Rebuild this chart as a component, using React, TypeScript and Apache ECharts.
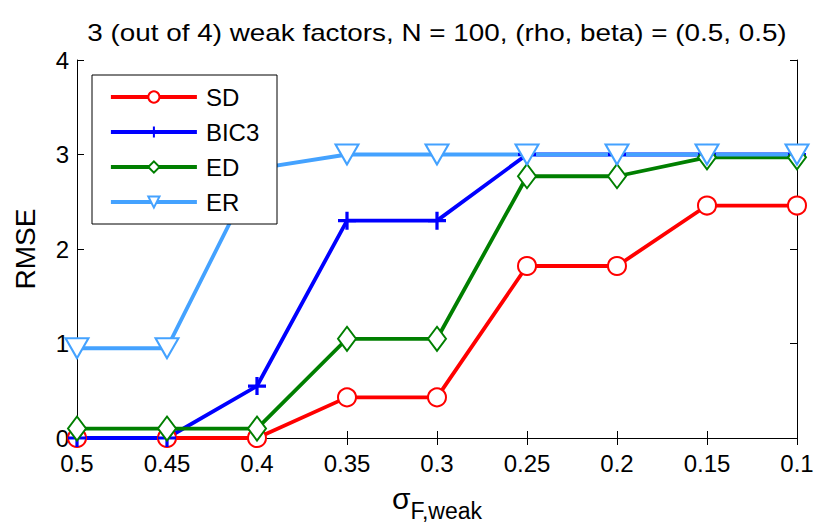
import React, { useEffect, useRef } from "react";
import * as echarts from "echarts";

const categories = ["0.5", "0.45", "0.4", "0.35", "0.3", "0.25", "0.2", "0.15", "0.1"];
const sdValues = [0, 0, 0, 0.43, 0.43, 1.82, 1.82, 2.46, 2.46];
const bic3Values = [0, 0, 0.55, 2.3, 2.3, 3, 3, 3, 3];
const edValues = [0.1, 0.1, 0.1, 1.05, 1.05, 2.77, 2.77, 2.97, 2.97];
const erValues = [0.95, 0.95, 2.85, 3, 3, 3, 3, 3, 3];
const yTicks = [0, 1, 2, 3, 4];
const titleText = "3 (out of 4) weak factors, N = 100, (rho, beta) = (0.5, 0.5)";

const FONT = "'Liberation Sans', Arial, Helvetica, sans-serif";
const PLUS = "path://M0,4.1H10V5.9H0Z M4.1,0H5.9V10H4.1Z";

export default function App() {
  const ref = useRef<HTMLDivElement>(null);
  useEffect(() => {
    const chart = echarts.init(ref.current!, null, { renderer: "svg" });
    const axisCommon = {
      axisLine: { show: true, lineStyle: { color: "#000", width: 1 } },
      axisTick: { show: true, inside: true, length: 7, lineStyle: { color: "#000" } },
      splitLine: { show: false },
    };
    const mk = (name: string, data: number[], color: string, symbol: string, size: any, extra: any = {}) => ({
      name,
      type: "line",
      data,
      color,
      symbol,
      symbolSize: size,
      lineStyle: { width: 3.8, color },
      itemStyle: { color, borderColor: color, borderWidth: 3 },
      emphasis: { disabled: true },
      ...extra,
    });
    chart.setOption({
      animation: false,
      grid: { left: 77, right: 33, top: 60, bottom: 88, containLabel: false },
      xAxis: [
        {
          type: "category",
          data: categories,
          boundaryGap: false,
          position: "bottom",
          ...axisCommon,
          axisLabel: { color: "#000", fontFamily: FONT, fontSize: 24, margin: 13 },
          name: "{s|σ}{b|F,weak}",
          nameLocation: "middle",
          nameGap: 45,
          nameTextStyle: {
            rich: {
              s: { fontFamily: FONT, fontSize: 30, lineHeight: 30, color: "#000", verticalAlign: "top" },
              b: { fontFamily: FONT, fontSize: 23, lineHeight: 23, color: "#000", verticalAlign: "top", padding: [16, 0, 0, 0] },
            },
          },
        },
        {
          type: "category",
          data: categories,
          boundaryGap: false,
          position: "top",
          ...axisCommon,
          axisLabel: { show: false },
        },
      ],
      yAxis: [
        {
          type: "value",
          min: 0,
          max: 4,
          interval: 1,
          position: "left",
          ...axisCommon,
          axisLabel: { color: "#000", fontFamily: FONT, fontSize: 24, margin: 8, formatter: (v: number) => (yTicks.includes(v) ? String(v) : "") },
          name: "RMSE",
          nameLocation: "middle",
          nameGap: 38,
          nameTextStyle: { fontFamily: FONT, fontSize: 28, color: "#000" },
        },
        {
          type: "value",
          min: 0,
          max: 4,
          interval: 1,
          position: "right",
          ...axisCommon,
          axisLabel: { show: false },
        },
      ],
      legend: {
        orient: "vertical",
        left: 109,
        top: 85,
        padding: 0,
        itemWidth: 86,
        itemHeight: 14,
        itemGap: 11,
        z: 20,
        lineStyle: { width: 3.8 },
        itemStyle: { borderWidth: 2.5 },
        textStyle: { fontFamily: FONT, fontSize: 24, lineHeight: 24, color: "#000", padding: [0, 0, 0, 4] },
        data: ["SD", "BIC3", "ED", "ER"],
      },
      graphic: [
        {
          type: "rect",
          z: 10,
          shape: { x: 92, y: 75, width: 185, height: 149 },
          style: { fill: "#fff", stroke: "#000", lineWidth: 1 },
        },
        {
          type: "text",
          z: 10,
          x: 437,
          y: 33,
          scaleX: 1.16,
          style: {
            text: titleText,
            fontFamily: FONT,
            fontSize: 24,
            fill: "#000",
            align: "center",
            verticalAlign: "middle",
          },
        },
      ],
      series: [
        mk("SD", sdValues, "#ff0000", "emptyCircle", 18),
        mk("BIC3", bic3Values, "#0000ff", PLUS, 18, { itemStyle: { color: "#0000ff", borderWidth: 0 } }),
        mk("ED", edValues, "#007f00", "emptyDiamond", [18, 24]),
        mk("ER", erValues, "#44a2ff", "emptyTriangle", [23, 20], { symbolRotate: 180 }),
      ],
    });
    return () => chart.dispose();
  }, []);
  return <div ref={ref} style={{ position: "fixed", left: 0, top: 0, width: 830, height: 527, background: "#fff" }} />;
}
